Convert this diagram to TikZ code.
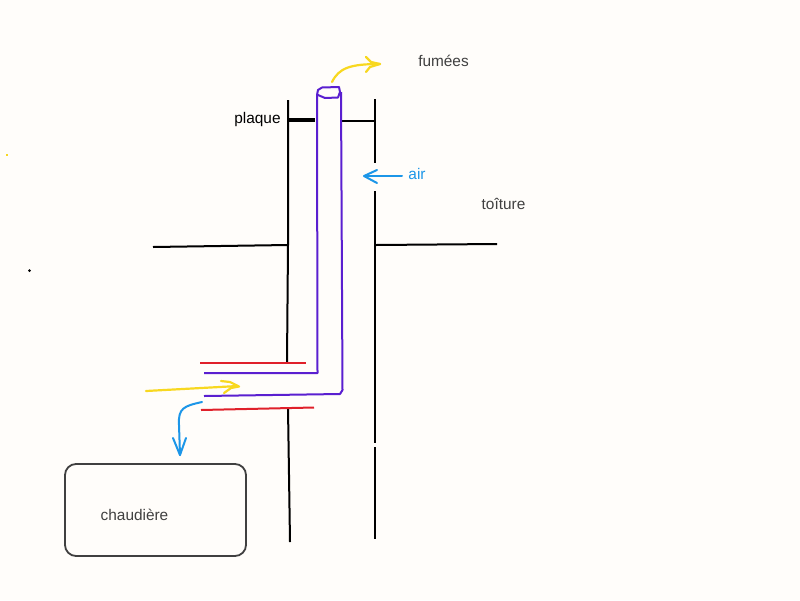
\documentclass[tikz,border=0pt]{standalone}
\usepackage{xcolor}
\usepackage{fontspec}
\setmainfont{Liberation Sans}
\definecolor{paper}{HTML}{FFFDFA}
\definecolor{flue}{HTML}{5A1FD0}
\definecolor{hot}{HTML}{E0202A}
\definecolor{smoke}{HTML}{F8D820}
\definecolor{airblue}{HTML}{1C96E8}
\definecolor{label}{HTML}{404040}
\tikzset{
    wall/.style={black,line width=2pt},
    pipe/.style={flue,line width=2pt,line join=round},
    collar/.style={hot,line width=2pt},
    smokeline/.style={smoke,line width=2.2pt,line cap=round,line join=round},
    airline/.style={airblue,line width=2pt,line cap=round,line join=round},
    caption/.style={font=\fontsize{15.4}{17}\selectfont,text=label,inner sep=0pt}
}
\begin{document}
\begin{tikzpicture}
    [x=1pt,y=-1pt]
    \useasboundingbox[fill=paper] (0,0) rectangle (800,600);
    %walls
    \draw[wall] (288,100)--(288,245)--(287,362);
    \draw[wall] (288,408)--(290,542);
    \draw[wall] (375,99)--(375,163);
    \draw[wall] (375,191)--(375,443);
    \draw[wall] (375,447)--(375,539);
    %roof
    \draw[wall] (153,247)--(288,245);
    \draw[wall] (376,245)--(497,244);
    %plate
    \draw[black,line width=3.2pt] (289,120)--(315,120);
    \draw[wall] (341,121)--(374,121);
    %flue
    \draw[pipe] (204,373)--(317.5,373)--(317,95);
    \draw[pipe] (341,92)--(342.5,390)--(340,394)--(204,396);
    \draw[pipe] (317,95)--(318,90)--(322,87.5)--(339,87)--(340,92)--(338,97.5)--(325,98)--(318,95);
    %collars
    \draw[collar] (200,363)--(306,363);
    \draw[collar] (201,410)--(314,407.5);
    %smoke in
    \draw[smokeline] (146,391)--(238,386);
    \draw[smokeline] (221,381)--(230,382)--(239,386.5)--(231,388)--(224,393);
    %smoke out
    \draw[smokeline] (332,82) .. controls (339,68) and (350,64) .. (380,64);
    \draw[smokeline] (366,57)--(371,62)--(380,64)--(370,67)--(366,72);
    %air in
    \draw[airline] (402,176)--(365,176);
    \draw[airline] (377,170)--(364,176)--(377,183);
    %air out
    \draw[airline] (202,402) .. controls (184,406) and (178,408) .. (179,425)--(180,455);
    \draw[airline] (173,438)--(180,455)--(186,438);
    %boiler
    \node[draw=label,line width=1.8pt,rounded corners=11pt,minimum width=181pt,minimum height=92pt,inner sep=0pt] (boiler) at (155.5,510) {};
    %labels
    \node[caption] (smokelabel) at (443.5,61) {fumées};
    \node[caption,text=black] (platelabel) at (257.5,120) {plaque};
    \node[caption,text=airblue] (airlabel) at (417,174) {air};
    \node[caption] (rooflabel) at (503.5,204) {toîture};
    \node[caption] (boilerlabel) at (134.5,515) {chaudière};
    %stray dots
    \fill[smoke] (6,154) rectangle (8,156);
    \fill[label] (29.5,270.5) circle (1.5pt);
\end{tikzpicture}
\end{document}
